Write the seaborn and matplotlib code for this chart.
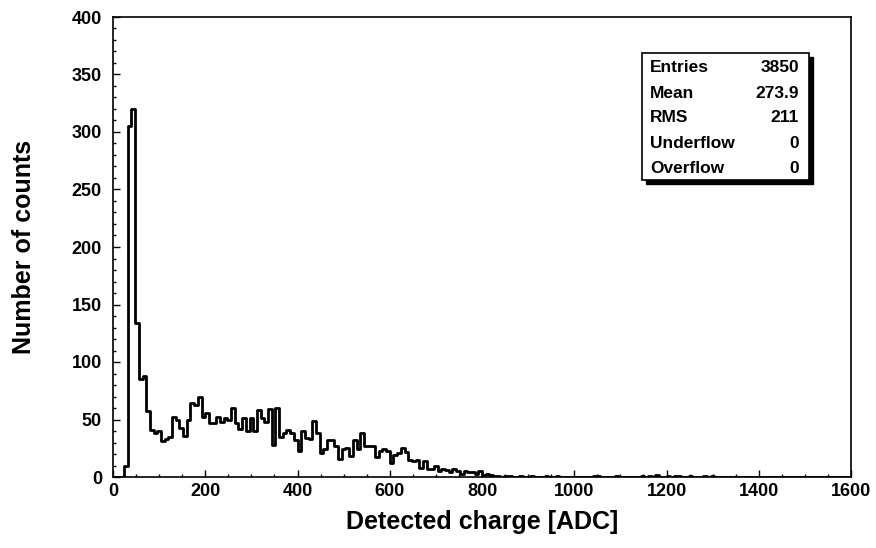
import numpy as np
import pandas as pd
import seaborn as sns
import matplotlib.pyplot as plt
from matplotlib.patches import Rectangle
from matplotlib.ticker import MultipleLocator

# === data: 200 bins of 8 ADC from 0 to 1600 ===
bin_width = 8
counts = [
    0, 0, 0, 10, 305, 320, 134, 85, 88, 57, 41, 38, 40, 31, 33, 35, 52, 50, 43, 36,
    50, 64, 63, 70, 52, 56, 47, 47, 52, 48, 51, 50, 60, 47, 42, 51, 40, 51, 40, 58,
    51, 48, 59, 28, 60, 35, 38, 41, 38, 32, 23, 40, 34, 33, 49, 38, 21, 24, 32, 32,
    27, 16, 24, 25, 18, 32, 24, 38, 27, 27, 27, 17, 23, 24, 23, 12, 19, 21, 25, 22,
    15, 14, 15, 8, 14, 7, 7, 10, 5, 7, 6, 4, 7, 5, 3, 5, 4, 4, 3, 5,
    2, 3, 2, 1, 1, 0, 1, 1, 0, 0, 1, 0, 0, 1, 0, 0, 0, 1, 0, 0,
    1, 0, 0, 0, 0, 0, 0, 0, 0, 0, 1, 1, 0, 0, 0, 0, 1, 0, 0, 0,
    0, 0, 0, 1, 0, 1, 0, 2, 0, 0, 1, 0, 1, 1, 0, 0, 1, 0, 0, 0,
    1, 0, 1, 0, 0, 0, 0, 0, 0, 0, 0, 0, 0, 0, 0, 0, 0, 0, 0, 0,
    0, 0, 0, 0, 0, 0, 0, 0, 0, 0, 0, 0, 0, 0, 0, 0, 0, 0, 0, 0,
]
centers = np.arange(len(counts)) * bin_width + bin_width / 2

stats_names = ["Entries", "Mean", "RMS", "Underflow", "Overflow"]
stats_values = ["3850", "273.9", "211", "0", "0"]

# === style ===
sns.set_style("ticks")
plt.rcParams['font.family'] = ['Liberation Sans', 'DejaVu Sans']
plt.rcParams['font.weight'] = 'bold'
plt.rcParams['text.color'] = 'black'
plt.rcParams['axes.labelcolor'] = 'black'
plt.rcParams['xtick.color'] = 'black'
plt.rcParams['ytick.color'] = 'black'

W, H = 876, 548
fig = plt.figure(figsize=(W / 100, H / 100), dpi=100)
ax = fig.add_axes([113 / W, 1 - 477 / H, (851 - 113) / W, (477 - 17) / H])

df = pd.DataFrame({"charge": centers, "n": counts})
sns.histplot(data=df, x="charge", weights="n", binwidth=bin_width, binrange=(0, 1600),
             element="step", fill=False, color="black", linewidth=2, ax=ax)

ax.set_xlim(0, 1600)
ax.set_ylim(0, 400)
ax.xaxis.set_major_locator(MultipleLocator(200))
ax.xaxis.set_minor_locator(MultipleLocator(50))
ax.yaxis.set_major_locator(MultipleLocator(50))
ax.yaxis.set_minor_locator(MultipleLocator(10))
ax.tick_params(which='both', direction='in', top=False, right=False,
               color='black', labelcolor='black', width=1, labelsize=13)
ax.tick_params(which='major', length=5)
ax.tick_params(which='minor', length=2.5)
ax.tick_params(axis='y', pad=8)
ax.tick_params(axis='x', pad=4)
for lab in ax.get_xticklabels() + ax.get_yticklabels():
    lab.set_fontweight('bold')
for sp in ax.spines.values():
    sp.set_linewidth(1.2)
    sp.set_color('black')

ax.set_xlabel("Detected charge [ADC]", fontsize=18, fontweight='bold', color='black')
ax.set_ylabel("Number of counts", fontsize=18, fontweight='bold', color='black')
ax.xaxis.set_label_coords(0.5, -(510 - 477) / 460)
ax.yaxis.set_label_coords(-(113 - 36) / 738, 0.5)

# === stats box ===
bx0, by0, bx1, by1 = 642, 53, 809, 180
shadow = Rectangle(((bx0 + 4) / W, 1 - (by1 + 4) / H), (bx1 - bx0) / W, (by1 - by0) / H,
                   transform=fig.transFigure, facecolor='black', edgecolor='black', zorder=5)
box = Rectangle((bx0 / W, 1 - by1 / H), (bx1 - bx0) / W, (by1 - by0) / H,
                transform=fig.transFigure, facecolor='white', edgecolor='black',
                linewidth=1.2, zorder=6)
fig.patches.extend([shadow, box])
for i, (name, val) in enumerate(zip(stats_names, stats_values)):
    yy = 1 - (68 + 25 * i) / H
    fig.text(650 / W, yy, name, ha='left', va='center', fontsize=12.5,
             fontweight='bold', color='black', zorder=7)
    fig.text(799 / W, yy, val, ha='right', va='center', fontsize=12.5,
             fontweight='bold', color='black', zorder=7)

fig.savefig("out.png", dpi=100, facecolor='white')
